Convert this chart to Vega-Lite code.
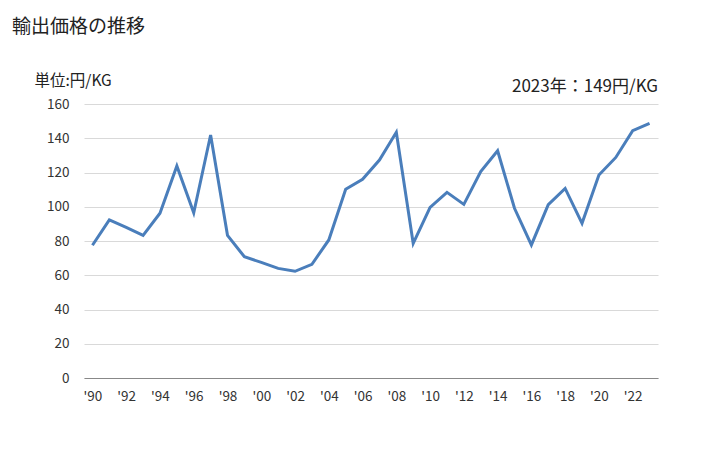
{
  "$schema": "https://vega.github.io/schema/vega-lite/v6.json",
  "autosize": "none",
  "width": 574,
  "height": 274,
  "padding": {"left": 84, "top": 104, "right": 70, "bottom": 72},
  "background": "white",
  "config": {
    "font": "Noto Sans CJK JP",
    "view": {"stroke": null},
    "axisX": {
      "values": [1990, 1992, 1994, 1996, 1998, 2000, 2002, 2004, 2006, 2008, 2010, 2012, 2014, 2016, 2018, 2020, 2022],
      "labelExpr": "\"'\" + substring(toString(datum.value), 2)",
      "labelOverlap": false,
      "grid": false,
      "ticks": false,
      "domainColor": "#888888",
      "domainWidth": 1,
      "labelPadding": 11,
      "labelFontSize": 13.5,
      "labelColor": "#333333",
      "labelFont": "Noto Sans CJK JP"
    },
    "axisY": {
      "values": [0, 20, 40, 60, 80, 100, 120, 140, 160],
      "labelOverlap": false,
      "titleAngle": 0,
      "titleAlign": "left",
      "titleBaseline": "middle",
      "titleX": -50,
      "titleY": -24,
      "titleFontSize": 15.5,
      "titleFontWeight": "normal",
      "titleColor": "#222222",
      "titleFont": "Noto Sans CJK JP",
      "grid": true,
      "gridColor": "#d9d9d9",
      "domain": false,
      "ticks": false,
      "labelPadding": 15,
      "labelFontSize": 13.5,
      "labelColor": "#333333",
      "labelFont": "Noto Sans CJK JP"
    }
  },
  "title": {
    "text": "輸出価格の推移",
    "anchor": "start",
    "frame": "group",
    "dx": -72,
    "offset": 36,
    "fontSize": 19,
    "fontWeight": "normal",
    "color": "#222222",
    "font": "Noto Sans CJK JP"
  },
  "data": {
    "values": [
      {"year": 1990, "price": 77.5},
      {"year": 1991, "price": 92.3},
      {"year": 1992, "price": 88},
      {"year": 1993, "price": 83.3},
      {"year": 1994, "price": 96.2},
      {"year": 1995, "price": 123.8},
      {"year": 1996, "price": 96.5},
      {"year": 1997, "price": 141.9},
      {"year": 1998, "price": 83.3},
      {"year": 1999, "price": 70.8},
      {"year": 2000, "price": 67.5},
      {"year": 2001, "price": 64},
      {"year": 2002, "price": 62.3},
      {"year": 2003, "price": 66.4},
      {"year": 2004, "price": 80.6},
      {"year": 2005, "price": 110.2},
      {"year": 2006, "price": 116},
      {"year": 2007, "price": 127.3},
      {"year": 2008, "price": 143.5},
      {"year": 2009, "price": 78.6},
      {"year": 2010, "price": 99.6},
      {"year": 2011, "price": 108.4},
      {"year": 2012, "price": 101.4},
      {"year": 2013, "price": 120.5},
      {"year": 2014, "price": 132.7},
      {"year": 2015, "price": 99.1},
      {"year": 2016, "price": 77.7},
      {"year": 2017, "price": 101.2},
      {"year": 2018, "price": 110.7},
      {"year": 2019, "price": 90.3},
      {"year": 2020, "price": 118.5},
      {"year": 2021, "price": 128.8},
      {"year": 2022, "price": 144.4},
      {"year": 2023, "price": 148.7}
    ]
  },
  "layer": [
    {
      "mark": {"type": "line", "color": "#4a7ebb", "strokeWidth": 3, "strokeJoin": "miter"},
      "encoding": {
        "x": {
          "field": "year",
          "type": "quantitative",
          "title": null,
          "scale": {"domain": [1989.5, 2023.5], "nice": false, "zero": false}
        },
        "y": {
          "field": "price",
          "type": "quantitative",
          "title": "単位:円/KG",
          "scale": {"domain": [0, 160], "nice": false}
        }
      }
    },
    {
      "data": {"values": [{"label": "2023年：149円/KG"}]},
      "mark": {"type": "text", "align": "right", "baseline": "middle", "fontSize": 17, "color": "#222222", "dy": -17, "font": "Noto Sans CJK JP"},
      "encoding": {
        "x": {"datum": 2023.5, "type": "quantitative", "title": null},
        "y": {"datum": 160, "type": "quantitative", "title": "単位:円/KG"},
        "text": {"field": "label"}
      }
    }
  ]
}
